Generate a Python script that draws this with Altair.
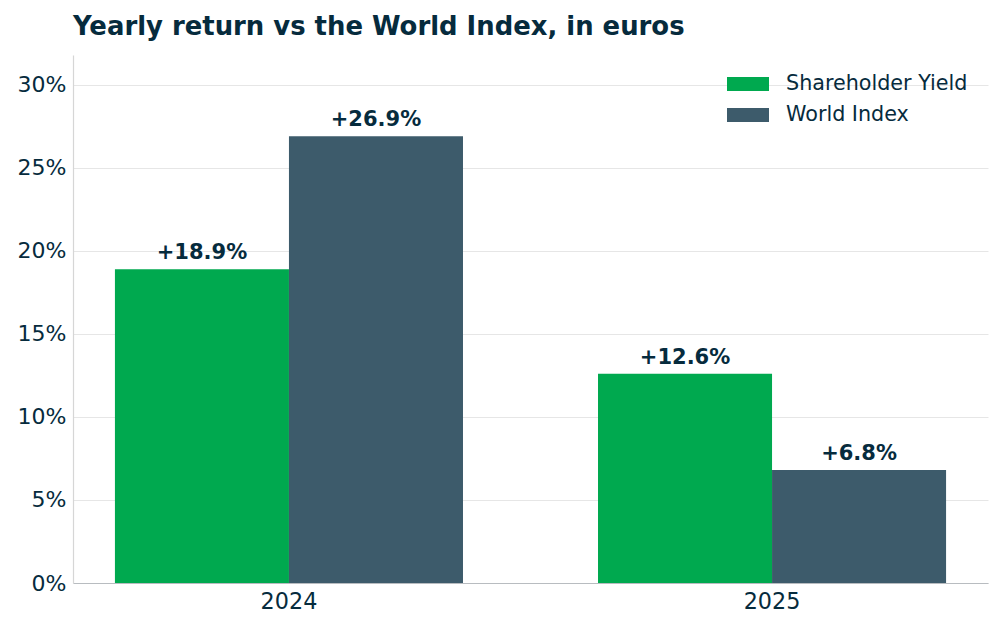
import altair as alt
import pandas as pd

years = ["2024", "2025"]
series_names = ["Shareholder Yield", "World Index"]
shareholder_yield = [0.189, 0.126]
world_index = [0.269, 0.068]
series_colors = ["#00A94F", "#3D5B6B"]
y_ticks = [0, 0.05, 0.10, 0.15, 0.20, 0.25, 0.30]

rows = []
for i, yr in enumerate(years):
    for name, vals in zip(series_names, [shareholder_yield, world_index]):
        v = vals[i]
        rows.append({"year": yr, "series": name, "value": v,
                     "label": f"+{v*100:.1f}%"})
df = pd.DataFrame(rows)

TXT = "#062B3D"
FONT = "DejaVu Sans"

x_enc = alt.X("year:N", sort=years, title=None,
              scale=alt.Scale(paddingInner=0.2795, paddingOuter=0.0868),
              axis=alt.Axis(labelAngle=0, ticks=False, labelFontSize=22.3,
                            labelPadding=7, labelColor=TXT, labelFont=FONT,
                            domainColor="#B8BCC0", domainWidth=1.2, grid=False))
xoff_enc = alt.XOffset("series:N", sort=series_names,
                       scale=alt.Scale(paddingInner=0, paddingOuter=0))
y_enc = alt.Y("value:Q", title=None,
              scale=alt.Scale(domain=[0, 0.318], nice=False, zero=True),
              axis=alt.Axis(values=y_ticks, format=".0%", ticks=False,
                            labelFontSize=22, labelPadding=7, labelColor=TXT,
                            labelFont=FONT, domainColor="#D6D6D6", domainWidth=1.2,
                            gridColor="#E6E6E6", gridWidth=1))

legend_symbol = "M-1.4,-0.47 L1.4,-0.47 L1.4,0.47 L-1.4,0.47 Z"

bars = alt.Chart(df).mark_bar().encode(
    x=x_enc,
    xOffset=xoff_enc,
    y=y_enc,
    color=alt.Color("series:N", sort=series_names,
                    scale=alt.Scale(domain=series_names, range=series_colors),
                    legend=alt.Legend(title=None, orient="none", legendX=660, legendY=14,
                                      symbolType=legend_symbol, symbolSize=900,
                                      symbolStrokeWidth=0, symbolOpacity=1,
                                      labelFontSize=20.7, labelFont=FONT,
                                      labelColor=TXT, labelOffset=23, labelLimit=400,
                                      rowPadding=6, padding=0)),
)

labels = alt.Chart(df).mark_text(
    font=FONT, fontSize=21, fontWeight="bold", color=TXT,
    baseline="alphabetic", dy=-10
).encode(
    x=alt.X("year:N", sort=years),
    xOffset=alt.XOffset("series:N", sort=series_names),
    y=alt.Y("value:Q"),
    text="label:N",
)

chart = alt.layer(bars, labels).properties(
    width=915, height=528,
    title=alt.TitleParams("Yearly return vs the World Index, in euros",
                          anchor="start", frame="group", font=FONT,
                          fontSize=25.9, fontWeight="bold", color=TXT,
                          offset=14),
    autosize=alt.AutoSizeParams(type="none"),
    padding={"left": 65, "top": 47, "right": 6, "bottom": 37},
).configure_view(stroke=None).configure_axis(labelFont=FONT)

chart.save("out.html", embed_options={"renderer": "svg", "actions": False})
